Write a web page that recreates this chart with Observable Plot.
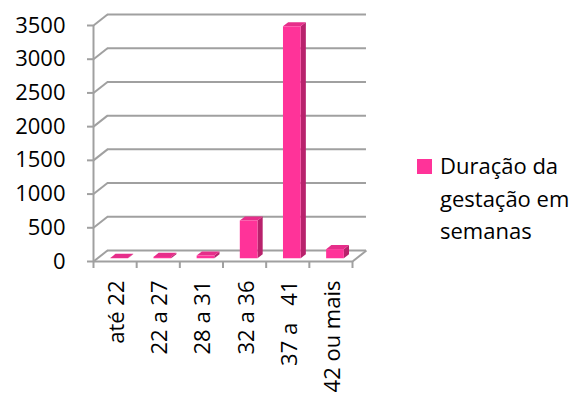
<!DOCTYPE html>
<html>
<head>
<meta charset="utf-8">
<script src="https://cdn.jsdelivr.net/npm/d3@7"></script>
<script src="https://cdn.jsdelivr.net/npm/@observablehq/plot@0.6"></script>
<style>
  html, body { margin: 0; padding: 0; background: #fff; }
  #wrap { position: relative; width: 576px; height: 394px; overflow: hidden; font-family: "Open Sans", sans-serif; }
  #legend { position: absolute; left: 417px; top: 149px; display: flex; align-items: flex-start;
            font-size: 22px; line-height: 32.5px; color: #000; }
  #legend .swatch { width: 15px; height: 15px; margin-top: 10px; margin-right: 8px; flex: none; }
</style>
</head>
<body>
<div id="wrap">
  <div id="chart"></div>
  <div id="legend"><span class="swatch"></span><span class="label"></span></div>
</div>
<script>
// Gestational age groups (weeks) and number of births in each
const categories = ["até 22", "22 a 27", "28 a 31", "32 a 36", "37 a\u00a0\u00a0\u00a041", "42 ou mais"];
const counts = [5, 20, 40, 560, 3440, 135];
const yTicks = [0, 500, 1000, 1500, 2000, 2500, 3000, 3500];
const seriesName = ["Duração da", "gestação em", "semanas"];

// Colours
const grid = "#a0a0a0";
const faceFront = "#ff3399";
const faceSide = "#b8226c";
const faceTop = "#e62e8a";

// Oblique depth of the box, in data units (x: categories, y: counts)
const DX = 0.324, DY = 163;
// Depth slice occupied by the columns, and column span within a category
const f0 = 0.25, f1 = 0.62;
const a = 0.32, b = 0.73;

const bars = categories.map((c, i) => ({c, i, v: counts[i]}));
const xl = d => d.i + a + f0 * DX;
const xr = d => d.i + b + f0 * DX;
const yBase = f0 * DY;
const ddx = (f1 - f0) * DX, ddy = (f1 - f0) * DY;

const sidePts = bars.flatMap(d => [
  {i: d.i, x: xr(d), y1: yBase, y2: d.v + yBase},
  {i: d.i, x: xr(d) + ddx, y1: yBase + ddy, y2: d.v + yBase + ddy}
]);
const topPts = bars.flatMap(d => [
  {i: d.i, y: d.v + yBase, x1: xl(d), x2: xr(d)},
  {i: d.i, y: d.v + yBase + ddy, x1: xl(d) + ddx, x2: xr(d) + ddx}
]);

const chart = Plot.plot({
  width: 576,
  height: 394,
  marginLeft: 93,
  marginRight: 224,
  marginTop: 25,
  marginBottom: 133,
  style: {fontFamily: "Open Sans", fontSize: "22px", background: "white", overflow: "visible", color: "black"},
  x: {type: "linear", domain: [0, categories.length]},
  y: {type: "linear", domain: [0, 3500]},
  marks: [
    // back wall gridlines
    Plot.ruleY(yTicks, {x1: () => DX, x2: () => categories.length + DX, y: d => d + DY, stroke: grid, strokeWidth: 2}),
    // left wall: links from the front axis to the back wall
    Plot.link(yTicks, {x1: () => 0, y1: d => d, x2: () => DX, y2: d => d + DY, stroke: grid, strokeWidth: 2}),
    // floor: right edge and front edge
    Plot.link([0], {x1: () => categories.length, y1: () => 0, x2: () => categories.length + DX, y2: () => DY, stroke: grid, strokeWidth: 2}),
    Plot.ruleY([0], {x1: () => 0, x2: () => categories.length, stroke: grid, strokeWidth: 2}),
    // columns: side, top, front faces
    Plot.areaY(sidePts, {x: "x", y1: "y1", y2: "y2", z: "i", fill: faceSide}),
    Plot.areaX(topPts, {y: "y", x1: "x1", x2: "x2", z: "i", fill: faceTop}),
    Plot.rect(bars, {x1: xl, x2: xr, y1: () => yBase, y2: d => d.v + yBase, fill: faceFront}),
    // front value axis
    Plot.ruleX([0], {y1: () => 0, y2: () => 3500, stroke: grid, strokeWidth: 2}),
    Plot.axisY({ticks: yTicks, tickFormat: d => String(d), tickSize: 6, tickPadding: 22, stroke: grid, strokeWidth: 2,
                fill: "black", fontSize: 22, label: null}),
    // category axis ticks at group boundaries
    Plot.axisX({ticks: d3.range(categories.length + 1), tickSize: 7, tickFormat: () => "", stroke: grid, strokeWidth: 2, label: null}),
    // rotated category labels
    Plot.text(bars, {x: d => d.i + 0.5, y: () => 0, text: "c", rotate: -90, textAnchor: "end", lineAnchor: "middle",
                     dy: 19, dx: 2, fontSize: 22, fill: "black"})
  ]
});
document.getElementById("chart").appendChild(chart);

document.querySelector("#legend .swatch").style.background = faceFront;
document.querySelector("#legend .label").innerHTML = seriesName.join("<br>");
</script>
</body>
</html>
